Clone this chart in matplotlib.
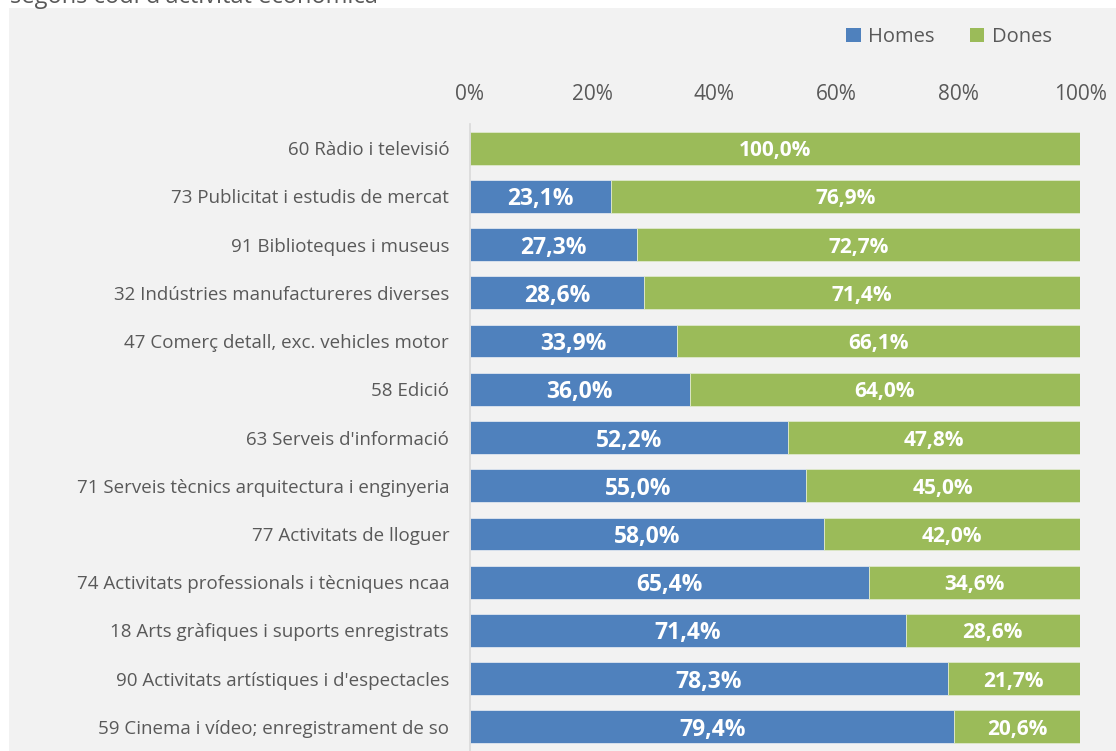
import matplotlib.pyplot as plt
from matplotlib.patches import Patch

# Data (share of men / women per activity code)
categories = [
    "60 Ràdio i televisió",
    "73 Publicitat i estudis de mercat",
    "91 Biblioteques i museus",
    "32 Indústries manufactureres diverses",
    "47 Comerç detall, exc. vehicles motor",
    "58 Edició",
    "63 Serveis d'informació",
    "71 Serveis tècnics arquitectura i enginyeria",
    "77 Activitats de lloguer",
    "74 Activitats professionals i tècniques ncaa",
    "18 Arts gràfiques i suports enregistrats",
    "90 Activitats artístiques i d'espectacles",
    "59 Cinema i vídeo; enregistrament de so",
]
homes = [0.0, 23.1, 27.3, 28.6, 33.9, 36.0, 52.2, 55.0, 58.0, 65.4, 71.4, 78.3, 79.4]
dones = [100.0, 76.9, 72.7, 71.4, 66.1, 64.0, 47.8, 45.0, 42.0, 34.6, 28.6, 21.7, 20.6]
xticks = [0, 20, 40, 60, 80, 100]

BLUE = '#4F81BD'
GREEN = '#9BBB59'
TEXT = '#595959'
BG = '#F2F2F2'

plt.rcParams['font.family'] = ['Open Sans', 'DejaVu Sans']

W, H = 1116, 751
fig = plt.figure(figsize=(W / 100, H / 100), dpi=100)
fig.patch.set_facecolor('white')

# grey chart area
fig.patches.append(plt.Rectangle((9 / W, 0), 1 - 9 / W, 1 - 8 / H,
                                 transform=fig.transFigure, facecolor=BG,
                                 edgecolor='none', zorder=-5))

# cut-off title at the top
fig.text(10 / W, 1 - 3 / H, "segons codi d'activitat econòmica",
         fontsize=17, color=TEXT, va='baseline', ha='left')

ax = fig.add_axes([470 / W, 0, 610 / W, 627 / H])
ax.set_facecolor(BG)

y = list(range(len(categories)))
ax.barh(y, homes, height=0.68, color=BLUE, edgecolor='#dfe6ef', linewidth=0.6)
ax.barh(y, dones, left=homes, height=0.68, color=GREEN, edgecolor='#dfe9cc', linewidth=0.6)

for i in y:
    if homes[i] > 0:
        ax.text(homes[i] / 2, i, f"{homes[i]:.1f}%".replace('.', ','),
                ha='center', va='center_baseline', color='white', fontsize=16.5, fontweight='bold')
    if dones[i] > 0:
        ax.text(homes[i] + dones[i] / 2, i, f"{dones[i]:.1f}%".replace('.', ','),
                ha='center', va='center_baseline', color='white', fontsize=15, fontweight='bold')

ax.set_xlim(0, 100)
ax.set_ylim(12.5, -0.5)
ax.set_yticks(y)
ax.set_yticklabels(categories)
ax.set_xticks(xticks)
ax.set_xticklabels([f"{t}%" for t in xticks])
ax.xaxis.tick_top()
ax.tick_params(axis='x', length=0, pad=14, labelsize=15, labelcolor=TEXT)
ax.tick_params(axis='y', length=0, pad=15, labelsize=13.5, labelcolor=TEXT)

for s in ['top', 'right', 'bottom']:
    ax.spines[s].set_visible(False)
ax.spines['left'].set_color('#D9D9D9')
ax.spines['left'].set_linewidth(1.2)

handles = [Patch(facecolor=BLUE, label='Homes'), Patch(facecolor=GREEN, label='Dones')]
fig.legend(handles=handles, loc='center', bbox_to_anchor=(949 / W, 1 - 37 / H),
           ncol=2, frameon=False, fontsize=14.5, labelcolor=TEXT,
           handlelength=0.7, handleheight=0.7, handletextpad=0.35, columnspacing=1.8)

fig.savefig('out.png', dpi=100, facecolor=fig.get_facecolor())
